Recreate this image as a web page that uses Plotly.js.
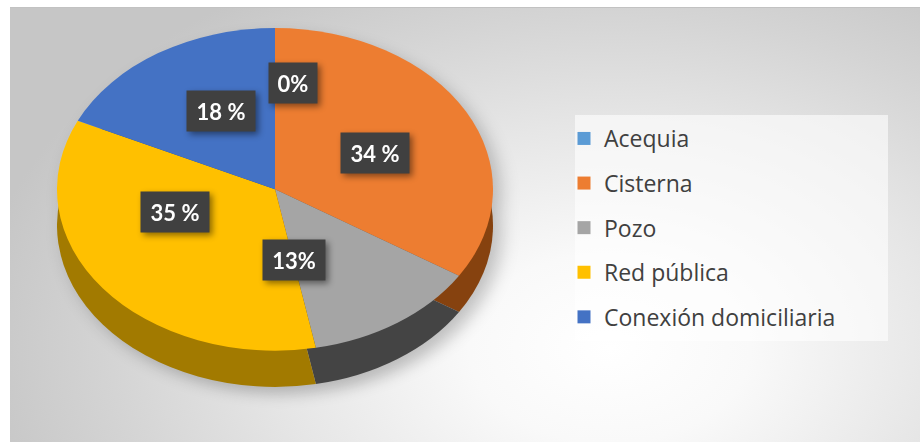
<!DOCTYPE html>
<html>
<head>
<meta charset="utf-8">
<script src="https://cdn.plot.ly/plotly-3.0.1.min.js"></script>
<style>
  html, body { margin: 0; padding: 0; background: #ffffff; width: 920px; height: 443px; overflow: hidden; }
  #frame {
    position: absolute; left: 10px; top: 7px; width: 910px; height: 434px;
    border-top: 1px solid #c2c2c2;
    background: radial-gradient(ellipse 640px 430px at 600px 340px, #ffffff 0%, #f9f9f9 22%, #e6e6e6 52%, #d4d4d4 78%, #c6c6c6 100%);
  }
  #pie {
    position: absolute; left: 57px; top: 28px; width: 436px; height: 485px;
    transform: scaleY(0.74); transform-origin: 0 0;
    filter: drop-shadow(8px 10px 9px rgba(0,0,0,0.22));
  }
  #main { position: absolute; left: 0; top: 0; width: 920px; height: 443px; }
  #main .annotation { filter: drop-shadow(3px 3px 3px rgba(0,0,0,0.45)); }
</style>
</head>
<body>
<div id="frame"></div>
<div id="pie"></div>
<div id="main"></div>
<script>
// ---- data ----
const categories = ["Acequia", "Cisterna", "Pozo", "Red pública", "Conexión domiciliaria"];
const values = [0, 34, 13, 35, 18];
const labelTexts = ["0%", "34 %", "13%", "35 %", "18 %"];
const topColors = ["#5B9BD5", "#ED7D31", "#A5A5A5", "#FFC000", "#4472C4"];
const sideColors = ["#2f5f8f", "#86420f", "#444444", "#a27a00", "#2a4a86"];

// ---- pie (top face + side), squashed vertically by CSS to look tilted ----
const sideOffset = 49; // px (unscaled) downward shift of the side layer
const pieH = 485;
const pieTraces = [
  {
    type: "pie", labels: categories, values: values, sort: false,
    direction: "clockwise", rotation: 0, textinfo: "none", hoverinfo: "none",
    marker: { colors: sideColors, line: { width: 0 } },
    domain: { x: [0, 1], y: [0, (pieH - sideOffset) / pieH] }, showlegend: false
  },
  {
    type: "pie", labels: categories, values: values, sort: false,
    direction: "clockwise", rotation: 0, textinfo: "none", hoverinfo: "none",
    marker: { colors: topColors, line: { width: 0 } },
    domain: { x: [0, 1], y: [sideOffset / pieH, 1] }, showlegend: false
  }
];
Plotly.newPlot("pie", pieTraces, {
  width: 436, height: pieH, margin: { l: 0, r: 0, t: 0, b: 0 },
  paper_bgcolor: "rgba(0,0,0,0)", plot_bgcolor: "rgba(0,0,0,0)", showlegend: false
}, { staticPlot: true, displayModeBar: false });

// ---- legend + data labels ----
const W = 920, H = 443;
const legendTraces = categories.map((c, i) => ({
  type: "scatter", mode: "markers", x: [null], y: [null], name: c,
  legendgroup: "g" + i, showlegend: true,
  marker: { symbol: "square", size: 13, color: topColors[i] }
}));

// label box centres (pixels) and widths
const labelPos = [[293, 83], [375, 153], [294, 260], [175, 212], [221, 111]];
const labelW = [36, 56, 50, 56, 56];
const annotations = labelTexts.map((t, i) => ({
  xref: "paper", yref: "paper",
  x: labelPos[i][0] / W, y: 1 - labelPos[i][1] / H,
  xanchor: "center", yanchor: "middle", showarrow: false,
  text: "<b>" + t + "</b>",
  font: { family: "Lato, 'Open Sans', sans-serif", size: 22, color: "#ffffff" },
  bgcolor: "#404040", borderpad: 6, width: labelW[i], height: 28
}));

Plotly.newPlot("main", legendTraces, {
  width: W, height: H, margin: { l: 0, r: 0, t: 0, b: 0 },
  paper_bgcolor: "rgba(0,0,0,0)", plot_bgcolor: "rgba(0,0,0,0)",
  xaxis: { visible: false }, yaxis: { visible: false },
  showlegend: true,
  legend: {
    x: 564 / W, y: 1 - 117 / H, xanchor: "left", yanchor: "top",
    bgcolor: "rgba(0,0,0,0)", traceorder: "grouped", tracegroupgap: 11.7,
    font: { family: "'Open Sans', Lato, sans-serif", size: 23, color: "#404040" }
  },
  shapes: [{
    type: "rect", xref: "paper", yref: "paper", layer: "below",
    x0: 575 / W, x1: 888 / W, y0: 1 - 341 / H, y1: 1 - 115 / H,
    fillcolor: "rgba(255,255,255,0.6)", line: { width: 0 }
  }],
  annotations: annotations
}, { staticPlot: true, displayModeBar: false });
</script>
</body>
</html>
